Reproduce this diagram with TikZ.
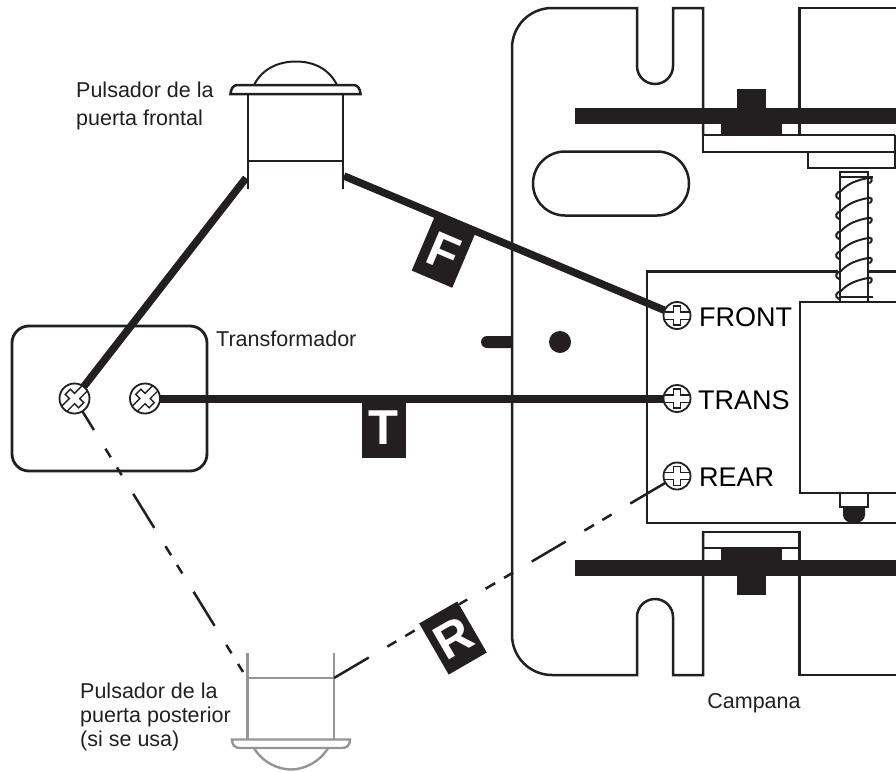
\documentclass[tikz,border=0pt]{standalone}
\usepackage{fontspec}
\setmainfont{Liberation Sans}
\tikzset{
  x=1pt,y=-1pt,
  part/.style={draw=ink,line width=2.5pt},
  solidpart/.style={fill=ink,draw=none},
  wire/.style={draw=ink,line width=7.5pt},
  thinwire/.style={draw=ink,line width=2.5pt},
  ghost/.style={draw=ghostgrey,line width=2.4pt},
  head/.style={circle,draw=ink,fill=white,line width=1.8pt,inner sep=0pt,outer sep=0pt},
  tag/.style={fill=ink,text=white,font=\fontsize{49}{49}\selectfont\bfseries,minimum width=44pt,minimum height=59pt,inner sep=0pt},
  termlabel/.style={anchor=west,font=\fontsize{27}{27}\selectfont,text=black,inner sep=0pt},
  note/.style={font=\fontsize{21.5}{24}\selectfont,text=ink,inner sep=0pt,align=left},
  notewide/.style={note,font=\fontsize{21.5}{27.5}\selectfont},
}
\definecolor{ink}{HTML}{231F20}
\definecolor{ghostgrey}{HTML}{939598}
\newcommand{\screwhead}[6]{% name,x,y,angle,diameter,arm
  \node[head,minimum size=#5pt] (#1) at (#2,#3) {};
  \begin{scope}[shift={(#2,#3)},rotate=#4]
    \draw[ink,line width=1.4pt] (-#6,-3.7) -- (-3.7,-3.7) -- (-3.7,-9.5) -- (3.7,-9.5) -- (3.7,-3.7) -- (#6,-3.7)
      (#6,3.7) -- (3.7,3.7) -- (3.7,9.5) -- (-3.7,9.5) -- (-3.7,3.7) -- (-#6,3.7);
  \end{scope}
}
\begin{document}
\begin{tikzpicture}
\useasboundingbox (0,0) rectangle (896,771);
% bell plate
\draw[part] (703,135) -- (703,8) -- (673,8) -- (673,66) arc[start angle=0,end angle=180,radius=18] -- (637,8) -- (552,8)
  arc[start angle=270,end angle=180,radius=40] -- (512,635) arc[start angle=180,end angle=90,radius=40] -- (637,675)
  -- (637,617) arc[start angle=180,end angle=360,radius=18] -- (673,675) -- (703,675) -- (703,532);
\draw[part] (896,8) -- (799.5,8) -- (799.5,135);
\draw[part] (799.5,532) -- (799.5,675) -- (896,675);
\draw[part] (565,151.5) -- (657,151.5) arc[start angle=270,end angle=450,radius=32] -- (565,215.5) arc[start angle=90,end angle=270,radius=32] -- cycle;
% top bracket
\draw[part] (895,135) -- (703,135) -- (703,152) -- (895,152) -- (895,135);
\draw[part] (808,152) -- (808,168) -- (895,168) -- (895,152);
\fill[solidpart] (575,108) rectangle (896,124);
\fill[solidpart] (737,89) rectangle (765.5,108);
\fill[solidpart] (720.5,124) rectangle (782,135.5);
% terminal block
\draw[part] (838,271.5) -- (647,271.5) -- (647,523) -- (896,523);
\draw[part] (868,271.5) -- (896,271.5);
\draw[part] (896,302) -- (800,302) -- (800,493) -- (896,493);
\draw[part] (840,493) -- (840,507) -- (868,507) -- (868,493);
\fill[solidpart] (843,507) -- (865,507) -- (865,515) .. controls (865,520) and (860,523) .. (855,523) -- (853,523) .. controls (848,523) and (843,520) .. (843,515) -- cycle;
% spring
\draw[part] (840,302) -- (840,172) -- (868,172) -- (868,302);
\draw[part] (840,177) -- (873,177);
\draw[part] (840,297) -- (873,297);
\foreach \yy in {0,20,40,60,80,100}{
  \draw[ink,line width=2pt,line cap=round] (839,199+\yy) .. controls (834,197+\yy) and (836,192+\yy) .. (841,191+\yy)
    .. controls (848,183+\yy) and (858,180+\yy) .. (868,178+\yy) .. controls (872,177+\yy) and (873,180+\yy) .. (870,183+\yy);
}
% bottom bracket
\draw[part] (703,548) -- (703,532) -- (799.5,532) -- (799.5,548) -- cycle;
\fill[solidpart] (575,560) rectangle (896,576);
\fill[solidpart] (720.5,547.5) rectangle (782,560);
\fill[solidpart] (737,576) rectangle (765.5,595);
% mounting marks
\fill[ink] (512,336) -- (487,336) arc[start angle=270,end angle=90,radius=6] -- (512,348) -- cycle;
\fill[ink] (560,342) circle[radius=11];
% transformer
\draw[draw=ink,line width=2.8pt,rounded corners=17pt] (12,326) rectangle (207,471);
% front button
\draw[part] (248,189) -- (248,93) (343,93) -- (343,189) (248,161) -- (343,161);
\draw[part] (230.5,94) .. controls (230.5,90) and (233,85) .. (237,85) -- (354,85) .. controls (358,85) and (360.5,90) .. (360.5,94) -- cycle;
\draw[part,line width=2pt] (254,85) .. controls (262,69) and (278,61.5) .. (296,61.5) .. controls (314,61.5) and (329,69) .. (337,85);
\coordinate (frontL) at (246,178);
\coordinate (frontR) at (344,176);
% rear button
\draw[ghost] (247.5,653) -- (247.5,740) (334,653) -- (334,740) (247.5,678) -- (334,678);
\draw[ghost] (232,739.5) -- (350,739.5) .. controls (350,745) and (347,748) .. (342,748) -- (240,748) .. controls (235,748) and (232,745) .. (232,739.5) -- cycle;
\draw[ghost] (254,748) .. controls (262,762) and (278,769.5) .. (291,769.5) .. controls (304,769.5) and (320,762) .. (328,748);
\coordinate (rearL) at (245.5,676);
\coordinate (rearR) at (334,678);
% screws
\screwhead{tA}{74.5}{398.5}{45}{30}{14}
\screwhead{tB}{145}{398.5}{45}{30}{14}
\screwhead{front}{677}{315.5}{0}{27}{12.5}
\screwhead{trans}{677}{398.5}{0}{27}{12.5}
\screwhead{rear}{677}{476}{0}{27}{12.5}
% wires
\draw[wire] (frontL) -- (tA);
\draw[wire] (frontR) -- (front);
\draw[wire,line width=8pt] (tB) -- (trans);
\draw[thinwire,dash pattern=on 22pt off 22pt on 10pt off 12pt on 9pt off 22pt on 40pt off 21.5pt on 10.6pt off 11.4pt on 10pt off 21.5pt on 40pt off 22.4pt on 9.8pt off 12.6pt on 9.4pt off 40pt] (tA) -- (rearL);
\draw[thinwire,dash pattern=on 40.3pt off 21.6pt on 10.4pt off 10.4pt on 10.9pt off 51.7pt on 9.3pt off 21.3pt on 11.1pt off 10.4pt on 10.4pt off 21.7pt on 39.4pt off 21.7pt on 11.1pt off 9.7pt on 10.8pt off 21.7pt on 60pt off 40pt] (rearR) -- (rear);
% wire tags
\node[tag,rotate=-23] (tagF) at (443.5,252) {F};
\node[tag] (tagT) at (383.7,428) {T};
\node[tag,rotate=30] (tagR) at (453,638) {R};
% labels
\node[termlabel] (lblFront) at (699,317) {FRONT};
\node[termlabel] (lblTrans) at (698,400) {TRANS};
\node[termlabel] (lblRear) at (699,477) {REAR};
\node[notewide,anchor=north west] (lblPF) at (76,82) {Pulsador de la\\puerta frontal};
\node[note,anchor=west] (lblTr) at (216,339) {Transformador};
\node[note,anchor=north west] (lblPR) at (80,683) {Pulsador de la\\puerta posterior\\(si se usa)};
\node[note,anchor=center] (lblCa) at (754,703) {Campana};
\end{tikzpicture}
\end{document}
